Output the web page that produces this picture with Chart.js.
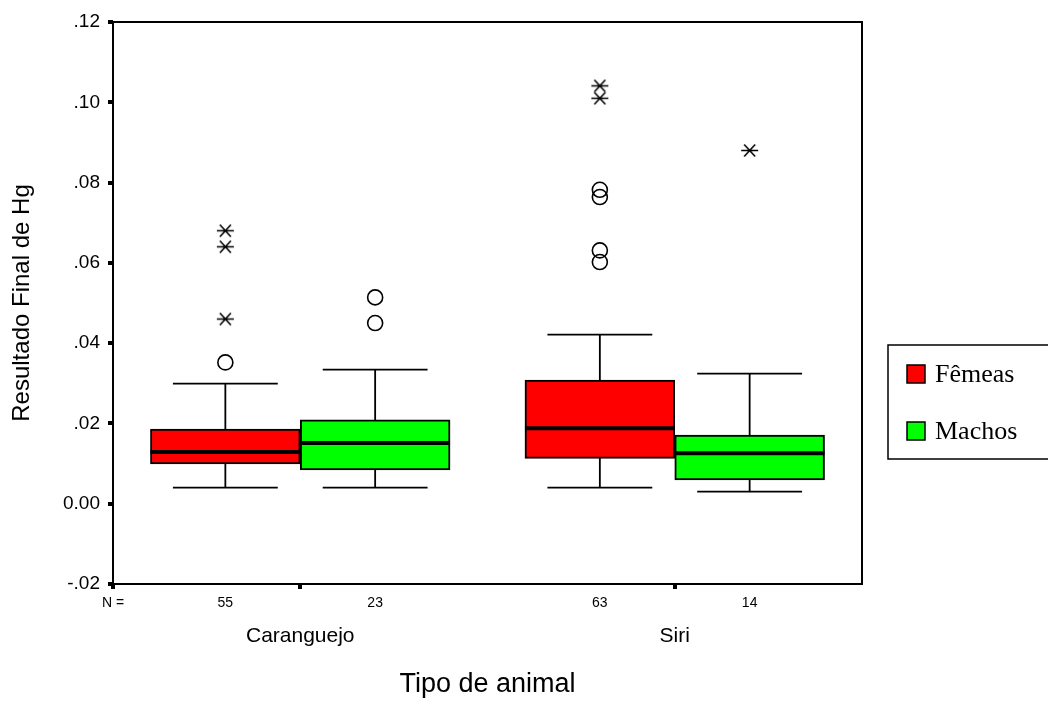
<!DOCTYPE html>
<html>
<head>
<meta charset="utf-8">
<title>Resultado Final de Hg - Tipo de animal</title>
<script src="https://cdn.jsdelivr.net/npm/chart.js@4.4.1/dist/chart.umd.min.js"></script>
<style>
    html, body { margin: 0; padding: 0; background: #fff; }
    #wrap { width: 1048px; height: 717px; }
</style>
</head>
<body>
<div id="wrap"><canvas id="graficoHg" width="1048" height="717"></canvas></div>
<script>
const categorias = ['Caranguejo', 'Siri'];
const series = ['Fêmeas', 'Machos'];
const coresSeries = ['#ff0000', '#00ff00'];

const nFemeas = [55, 63];
const nMachos = [23, 14];

const minFemeas = [0.0040, 0.0040];
const q1Femeas = [0.0099, 0.0113];
const medianaFemeas = [0.0129, 0.0188];
const q3Femeas = [0.0186, 0.0308];
const maxFemeas = [0.0299, 0.0421];

const minMachos = [0.0040, 0.0030];
const q1Machos = [0.0084, 0.0059];
const medianaMachos = [0.0151, 0.0126];
const q3Machos = [0.0209, 0.0171];
const maxMachos = [0.0334, 0.0324];

// outliers (circulos) y extremos (asteriscos), por categoria
const outliersFemeas = [[0.0352], [0.0782, 0.0764, 0.0631, 0.0602]];
const outliersMachos = [[0.0514, 0.0450], []];
const extremosFemeas = [[0.0680, 0.0640, 0.0460], [0.1041, 0.1010]];
const extremosMachos = [[], [0.0880]];

const yTickLabels = ['-.02', '0.00', '.02', '.04', '.06', '.08', '.10', '.12'];

const FUENTE = "'Liberation Sans', Arial, sans-serif";

// posicion de cada caja en el eje lineal auxiliar (0..4, categoria i en 2i+1)
function posCaja(cat, serie) {
    return 2 * cat + 1 + (serie - 0.5) * 0.8;
}

function puntos(listas, serie) {
    const out = [];
    listas.forEach((vals, cat) => {
        vals.forEach(v => out.push({ x: posCaja(cat, serie), y: v }));
    });
    return out;
}

function crearAsterisco() {
    const c = document.createElement('canvas');
    c.width = 19; c.height = 15;
    const g = c.getContext('2d');
    g.strokeStyle = '#000';
    g.lineWidth = 1.6;
    g.beginPath();
    g.moveTo(1, 7.5); g.lineTo(18, 7.5);
    g.moveTo(4, 1.5); g.lineTo(15, 13.5);
    g.moveTo(15, 1.5); g.lineTo(4, 13.5);
    g.stroke();
    return c;
}

const cajas = [
    { min: minFemeas, q1: q1Femeas, med: medianaFemeas, q3: q3Femeas, max: maxFemeas },
    { min: minMachos, q1: q1Machos, med: medianaMachos, q3: q3Machos, max: maxMachos }
];
const nPorSerie = [nFemeas, nMachos];

const pluginBoxplot = {
    id: 'boxplot',
    beforeDatasetsDraw(chart) {
        // bigotes (quedan debajo de las cajas)
        const ctx = chart.ctx;
        const y = chart.scales.y;
        ctx.save();
        ctx.strokeStyle = '#000';
        ctx.lineWidth = 1.8;
        cajas.forEach((c, s) => {
            chart.getDatasetMeta(s).data.forEach((bar, i) => {
                const half = bar.width * 0.35;
                const yMin = y.getPixelForValue(c.min[i]);
                const yMax = y.getPixelForValue(c.max[i]);
                ctx.beginPath();
                ctx.moveTo(bar.x, yMin); ctx.lineTo(bar.x, yMax);
                ctx.moveTo(bar.x - half, yMin); ctx.lineTo(bar.x + half, yMin);
                ctx.moveTo(bar.x - half, yMax); ctx.lineTo(bar.x + half, yMax);
                ctx.stroke();
            });
        });
        ctx.restore();
    },
    afterDatasetsDraw(chart) {
        const ctx = chart.ctx;
        const y = chart.scales.y;
        const a = chart.chartArea;
        ctx.save();
        ctx.strokeStyle = '#000';
        // medianas
        ctx.lineWidth = 4;
        cajas.forEach((c, s) => {
            chart.getDatasetMeta(s).data.forEach((bar, i) => {
                const ym = y.getPixelForValue(c.med[i]);
                ctx.beginPath();
                ctx.moveTo(bar.x - bar.width / 2, ym);
                ctx.lineTo(bar.x + bar.width / 2, ym);
                ctx.stroke();
            });
        });
        // marco del area del grafico
        ctx.lineWidth = 2;
        ctx.strokeRect(a.left, a.top, a.right - a.left, a.bottom - a.top);
        ctx.restore();
    },
    afterDraw(chart) {
        // leyenda con marco (estilo SPSS)
        const ctx = chart.ctx;
        const a = chart.chartArea;
        const x0 = a.right + 26, y0 = 345;
        ctx.save();
        ctx.strokeStyle = '#000';
        ctx.lineWidth = 1.5;
        ctx.strokeRect(x0, y0, 200, 114);
        ctx.font = "26px 'Liberation Serif', 'Times New Roman', serif";
        ctx.textBaseline = 'middle';
        series.forEach((nombre, s) => {
            const cy = y0 + 29 + s * 57;
            ctx.fillStyle = coresSeries[s];
            ctx.fillRect(x0 + 19, cy - 9, 18, 18);
            ctx.strokeRect(x0 + 19, cy - 9, 18, 18);
            ctx.fillStyle = '#000';
            ctx.fillText(nombre, x0 + 47, cy + 1);
        });
        ctx.restore();
    }
};

// ticks del eje de N: "N =" en 0, marcas de categoria en 1 y 3, conteos bajo cada caja
const ticksN = [0, 1, 3];
const etiquetasN = { '0.00': 'N =' };
categorias.forEach((c, i) => {
    series.forEach((s, j) => {
        const p = posCaja(i, j);
        ticksN.push(p);
        etiquetasN[p.toFixed(2)] = String(nPorSerie[j][i]);
    });
});
ticksN.sort((a, b) => a - b);

function datosCaja(s) {
    return cajas[s].q1.map((q, i) => ({ x: posCaja(i, s), y: [q, cajas[s].q3[i]] }));
}

const config = {
    type: 'bar',
    data: {
        labels: categorias,
        datasets: [
            {
                label: series[0],
                data: datosCaja(0),
                backgroundColor: coresSeries[0],
                borderColor: '#000',
                borderWidth: 2,
                borderSkipped: false,
                xAxisID: 'xs'
            },
            {
                label: series[1],
                data: datosCaja(1),
                backgroundColor: coresSeries[1],
                borderColor: '#000',
                borderWidth: 2,
                borderSkipped: false,
                xAxisID: 'xs'
            },
            {
                type: 'scatter',
                label: 'outliers',
                data: puntos(outliersFemeas, 0).concat(puntos(outliersMachos, 1)),
                xAxisID: 'xs',
                pointStyle: 'circle',
                pointRadius: 7.5,
                pointBorderWidth: 1.6,
                pointBorderColor: '#000',
                pointBackgroundColor: 'rgba(0,0,0,0)'
            },
            {
                type: 'scatter',
                label: 'extremos',
                data: puntos(extremosFemeas, 0).concat(puntos(extremosMachos, 1)),
                xAxisID: 'xs',
                pointStyle: crearAsterisco()
            }
        ]
    },
    options: {
        responsive: false,
        animation: false,
        devicePixelRatio: 1,
        layout: { padding: { left: 0, top: 22, right: 186, bottom: 0 } },
        datasets: {
            bar: { grouped: false, categoryPercentage: 1.0, barPercentage: 1.0 }
        },
        plugins: {
            legend: { display: false },
            tooltip: { enabled: false }
        },
        scales: {
            y: {
                min: -0.02,
                max: 0.12,
                afterBuildTicks: (scale) => {
                    scale.ticks = yTickLabels.map((t, i) => ({ value: -0.02 + i * 0.02 }));
                },
                afterFit: (scale) => { scale.width = 113; },
                ticks: {
                    callback: (v, i) => yTickLabels[i],
                    color: '#000',
                    font: { family: FUENTE, size: 19 },
                    padding: 8
                },
                grid: { drawOnChartArea: false, tickLength: 5, lineWidth: 4, color: '#000' },
                border: { display: false },
                title: {
                    display: true,
                    text: 'Resultado Final de Hg',
                    color: '#000',
                    font: { family: FUENTE, size: 24 },
                    padding: { top: 8, bottom: 0 }
                }
            },
            // eje oculto donde se dibujan cajas y puntos
            xs: {
                type: 'linear',
                display: false,
                min: 0,
                max: 4,
                offset: false,
                grid: { offset: false },
                afterBuildTicks: (scale) => {
                    scale.ticks = [{ value: 0 }, { value: 4 }];
                }
            },
            // eje con los tamanos de muestra
            xn: {
                type: 'linear',
                position: 'bottom',
                weight: 0,
                min: 0,
                max: 4,
                offset: false,
                afterBuildTicks: (scale) => {
                    scale.ticks = ticksN.map(v => ({ value: v }));
                },
                afterFit: (scale) => { scale.height = 28; },
                ticks: {
                    callback: (v) => etiquetasN[Number(v).toFixed(2)] || '',
                    color: '#000',
                    font: { family: FUENTE, size: 14 },
                    padding: 6,
                    maxRotation: 0,
                    autoSkip: false
                },
                grid: {
                    offset: false,
                    drawOnChartArea: false,
                    tickLength: 5,
                    lineWidth: 4,
                    color: (c) => (c.tick && [0, 1, 3].includes(c.tick.value)) ? '#000' : 'rgba(0,0,0,0)'
                },
                border: { display: false }
            },
            x: {
                type: 'category',
                position: 'bottom',
                weight: 1,
                offset: true,
                afterFit: (scale) => { scale.height = 105; },
                ticks: {
                    color: '#000',
                    font: { family: FUENTE, size: 21 },
                    padding: 12,
                    maxRotation: 0
                },
                grid: { display: false, drawTicks: false },
                border: { display: false },
                title: {
                    display: true,
                    text: 'Tipo de animal',
                    color: '#000',
                    font: { family: FUENTE, size: 27 },
                    padding: { top: 0, bottom: 16 }
                }
            }
        }
    },
    plugins: [pluginBoxplot]
};

const canvas = document.getElementById('graficoHg');
window.graficoHg_chart = new Chart(canvas, config);
</script>
</body>
</html>
